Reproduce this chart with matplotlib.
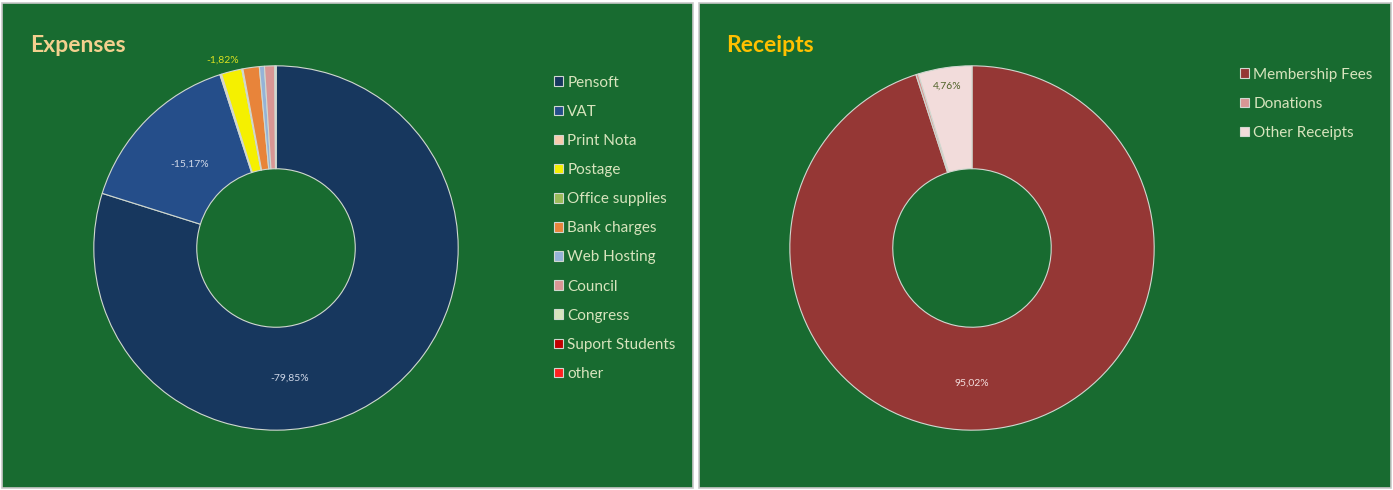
import matplotlib
matplotlib.use("Agg")

import numpy as np
import matplotlib.pyplot as plt
from matplotlib.patches import Rectangle

# ---------------- data ----------------
expense_labels = ["Pensoft", "VAT", "Print Nota", "Postage", "Office supplies",
                  "Bank charges", "Web Hosting", "Council", "Congress",
                  "Suport Students", "other"]
expense_values = [-79.85, -15.17, -0.15, -1.82, -0.10, -1.45, -0.45, -0.91, -0.10, 0.0, 0.0]
expense_colors = ["#17375E", "#254E8A", "#F8CBAD", "#F5F000", "#9BBB59",
                  "#E8843A", "#95B3D7", "#D99694", "#D7E4BD", "#C00000", "#FF2020"]

receipt_labels = ["Membership Fees", "Donations", "Other Receipts"]
receipt_values = [95.02, 0.22, 4.76]
receipt_colors = ["#953735", "#D99694", "#F2DCDB"]

BG = "#186B30"
LEG_TXT = "#D7E4BD"
W, H = 1393, 490

fig = plt.figure(figsize=(W / 100, H / 100), dpi=100)
fig.patch.set_facecolor("white")
plt.rcParams["font.family"] = ["Lato", "DejaVu Sans"]

# panels (behind the axes)
for x0, x1 in [(2, 693), (699, 1391)]:
    fig.patches.append(Rectangle((x0 / W, 2 / H), (x1 - x0) / W, (H - 5) / H,
                                 transform=fig.transFigure, facecolor=BG,
                                 edgecolor="#C8C8C8", linewidth=1.2, zorder=-5))


def donut(cx, cy, values, colors, r_px=184):
    ax = fig.add_axes([(cx - r_px) / W, (H - cy - r_px) / H, 2 * r_px / W, 2 * r_px / H])
    ax.set_facecolor("none")
    sizes = [abs(v) if v != 0 else 1e-9 for v in values]
    wedges, _ = ax.pie(sizes, colors=colors, startangle=90, counterclock=False,
                       radius=1.0, wedgeprops=dict(width=0.565, edgecolor="#D0D8D0",
                                                   linewidth=0.8))
    ax.set_xlim(-1.01, 1.01)
    ax.set_ylim(-1.01, 1.01)
    ax.set_aspect("equal")
    ax.axis("off")
    return ax, wedges


def pct(v):
    return f"{v:.2f}%".replace(".", ",")


# ================= EXPENSES =================
ax1, w1 = donut(276, 248, expense_values, expense_colors)
# label placement: index -> (angle deg, radius, colour)
exp_lab = {0: (-84, 0.72, "#D0D8E8"), 1: (136, 0.66, "#D0D8E8"), 3: (106, 1.07, "#D8E020")}
for i, (ang, r, c) in exp_lab.items():
    ax1.text(r * np.cos(np.radians(ang)), r * np.sin(np.radians(ang)),
             pct(expense_values[i]), color=c, fontsize=7.5, ha="center", va="center")
fig.text(30 / W, 1 - 45 / H, "Expenses", color="#F3D08E", fontsize=16.5,
         fontweight="bold", va="center")
fig.legend(w1, expense_labels, loc="upper left", bbox_to_anchor=(546 / W, 1 - 68 / H),
           frameon=False, fontsize=11, labelcolor=LEG_TXT, handlelength=0.6,
           handleheight=0.6, handletextpad=0.3, labelspacing=0.99, borderpad=0)

# ================= RECEIPTS =================
ax2, w2 = donut(972, 248, receipt_values, receipt_colors)
rec_lab = {0: (-90, 0.74, "#F2DCDB"), 2: (98.6, 0.9, "#4F6228")}
for i, (ang, r, c) in rec_lab.items():
    ax2.text(r * np.cos(np.radians(ang)), r * np.sin(np.radians(ang)),
             pct(receipt_values[i]), color=c, fontsize=7.5, ha="center", va="center")
fig.text(726 / W, 1 - 45 / H, "Receipts", color="#FFC000", fontsize=16.5,
         fontweight="bold", va="center")
fig.legend(w2, receipt_labels, loc="upper left", bbox_to_anchor=(1232 / W, 1 - 60 / H),
           frameon=False, fontsize=11, labelcolor=LEG_TXT, handlelength=0.6,
           handleheight=0.6, handletextpad=0.3, labelspacing=0.99, borderpad=0)

plt.savefig("out.png", dpi=100, facecolor=fig.get_facecolor())
plt.close()
